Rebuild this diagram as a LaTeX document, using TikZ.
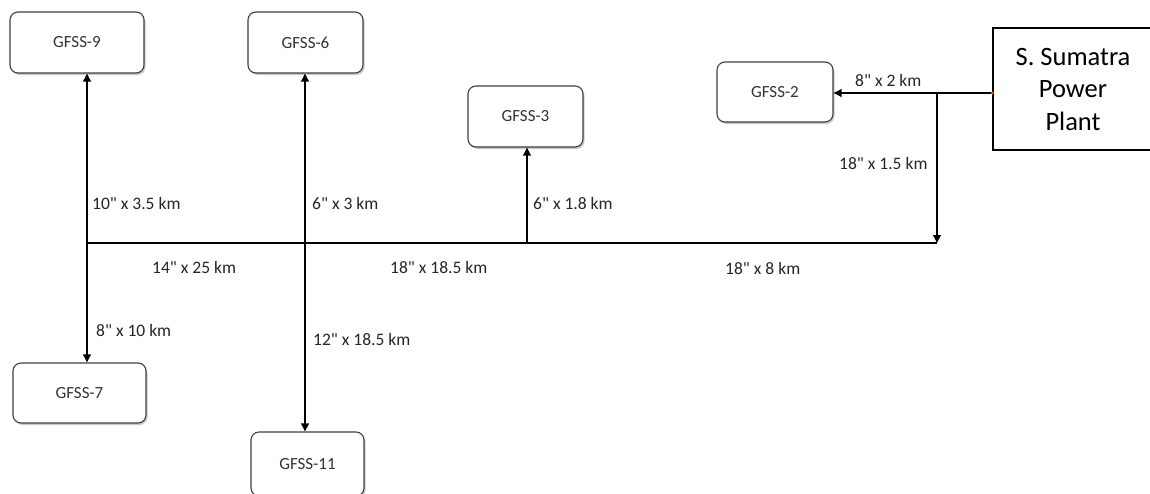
\documentclass[tikz,border=0pt]{standalone}
\usepackage{fontspec}
\setmainfont{Carlito}[Ligatures=TeXOff]
\usetikzlibrary{arrows.meta,shadows}
\begin{document}
\begin{tikzpicture}[x=1pt,y=-1pt,
  station/.style={draw=black!75, line width=1.1pt, rounded corners=8pt, fill=white,
    drop shadow={shadow xshift=1.5pt, shadow yshift=-2pt, opacity=0.35, fill=black!60},
    inner sep=0pt, font=\fontsize{17}{19}\selectfont\color{black!80}},
  plantbox/.style={draw=black, line width=1.3pt, fill=white, inner sep=0pt,
    align=center, font=\fontsize{26.5}{32.5}\selectfont},
  pipe/.style={line width=2.4pt, draw=black},
  feed/.style={pipe, -{Triangle[length=8pt,width=7.5pt]}},
  size/.style={anchor=west, inner sep=0pt, font=\fontsize{17.5}{19}\selectfont\color{black!85}}
]
\useasboundingbox (0,0) rectangle (1150,493);
\fill[white] (0,0) rectangle (1150,493);

% substations
\node[station, minimum width=134pt, minimum height=61pt] (g9)  at (77,42.5)  {GFSS-9};
\node[station, minimum width=115pt, minimum height=61pt] (g6)  at (305.5,42.5) {GFSS-6};
\node[station, minimum width=115pt, minimum height=61pt] (g3)  at (525.5,116.5) {GFSS-3};
\node[station, minimum width=116pt, minimum height=60pt] (g2)  at (775,92) {GFSS-2};
\node[station, minimum width=133pt, minimum height=60pt] (g7)  at (79.5,393) {GFSS-7};
\node[station, minimum width=113pt, minimum height=64pt] (g11) at (307.5,464) {GFSS-11};

% source
\node[plantbox, minimum width=160pt, minimum height=122pt] (plant) at (1073,89)
  {S. Sumatra\\Power\\Plant};

% junction points
\coordinate (j1) at (937,93);
\coordinate (j2) at (937,243);
\coordinate (m9) at (87,243);
\coordinate (m6) at (305,243);
\coordinate (m3) at (527,243);

% trunk line
\draw[pipe, line width=2.9pt] (j2) -- (m9);

% supply from the plant
\draw[feed] (plant.west |- j1) -- (g2.east |- j1);
\fill[orange!80!red] (plant.west |- j1) circle (1.6pt);
\draw[feed] (j1) -- (j2);

% branches
\draw[feed] (m9) -- (m9 |- g9.south);
\draw[feed] (m6) -- (m6 |- g6.south);
\draw[feed] (m3) -- (m3 |- g3.south);
\draw[feed] (m9) -- (m9 |- g7.north);
\draw[feed] (m6) -- (m6 |- g11.north);

% pipe sizes
\node[size] (l1) at (92,203)  {10" x 3.5 km};
\node[size] (l2) at (312,203) {6" x 3 km};
\node[size] (l3) at (533,203) {6" x 1.8 km};
\node[size] (l4) at (855,80)  {8" x 2 km};
\node[size] (l5) at (839,163) {18" x 1.5 km};
\node[size] (l6) at (152,267) {14" x 25 km};
\node[size] (l7) at (390,267) {18" x 18.5 km};
\node[size] (l8) at (725,268) {18" x 8 km};
\node[size] (l9) at (96,330)  {8" x 10 km};
\node[size] (l10) at (313,339) {12" x 18.5 km};
\end{tikzpicture}
\end{document}
